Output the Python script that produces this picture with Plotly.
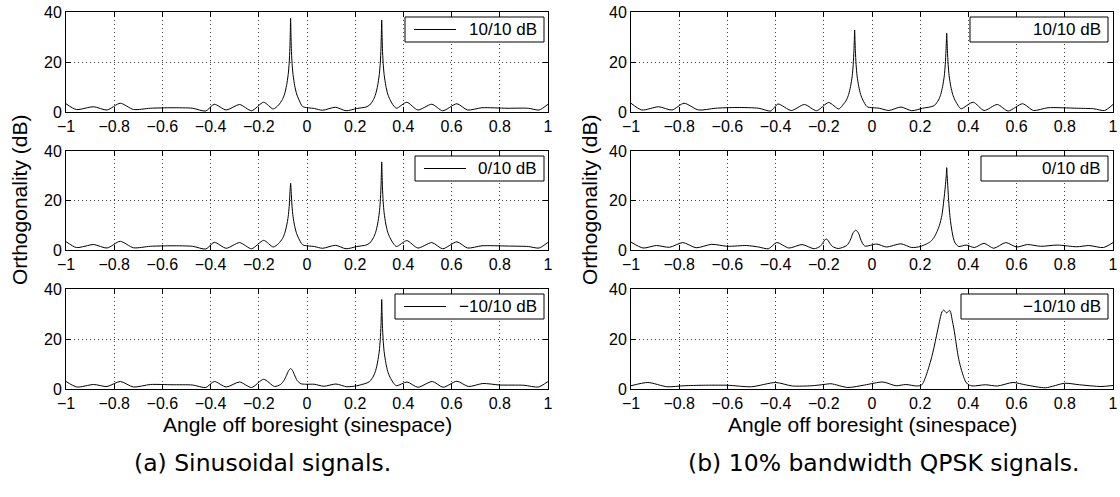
import plotly.graph_objects as go

W, H = 1120, 497

x_ticks = [-1, -0.8, -0.6, -0.4, -0.2, 0, 0.2, 0.4, 0.6, 0.8, 1]
x_tick_labels = ["−1", "−0.8", "−0.6", "−0.4", "−0.2", "0", "0.2", "0.4", "0.6", "0.8", "1"]
y_ticks = [0, 20, 40]
y_tick_labels = ["0", "20", "40"]

legend_labels = ["10/10 dB", "0/10 dB", "−10/10 dB"]
captions = ["(a) Sinusoidal signals.", "(b) 10% bandwidth QPSK signals."]
x_title = "Angle off boresight (sinespace)"
y_title = "Orthogonality (dB)"

# (a) Sinusoidal signals, (angle, orthogonality dB)
sin_10 = [(-1.0,3.3),(-0.957,1.0),(-0.885,2.1),(-0.83,0.8),(-0.775,3.5),(-0.72,1.0),(-0.65,1.5),(-0.56,1.7),
          (-0.475,1.5),(-0.42,0.4),(-0.385,3.1),(-0.335,0.8),(-0.28,3.0),(-0.23,0.5),(-0.18,3.9),(-0.14,1.2),
          (-0.118,2.8),(-0.102,5.0),(-0.093,7.2),(-0.085,10.5),(-0.078,15.0),(-0.074,19.5),(-0.071,25.5),
          (-0.0695,31.0),(-0.068,37.5),(-0.0665,31.0),(-0.065,25.5),(-0.062,19.5),(-0.058,15.0),(-0.051,10.5),
          (-0.043,7.2),(-0.034,5.0),(-0.018,2.2),(0.03,1.4),(0.065,0.7),(0.118,1.9),(0.162,0.5),(0.207,1.4),
          (0.245,2.0),(0.26,2.8),(0.276,5.0),(0.285,7.2),(0.293,10.5),(0.3,15.0),(0.304,19.5),(0.307,25.5),
          (0.3085,31.0),(0.31,36.8),(0.3115,31.0),(0.313,25.5),(0.316,19.5),(0.32,15.0),(0.327,10.5),(0.335,7.2),
          (0.344,5.0),(0.36,2.4),(0.372,1.5),(0.414,3.9),(0.46,0.8),(0.518,3.1),(0.563,0.5),(0.622,3.3),
          (0.666,0.8),(0.726,1.7),(0.83,1.5),(0.918,1.5),(0.963,0.8),(1.0,3.1)]

sin_0 = [(-1.0,3.4),(-0.957,1.0),(-0.885,2.2),(-0.83,0.8),(-0.775,3.5),(-0.72,0.9),(-0.65,1.5),(-0.56,1.7),
         (-0.475,1.5),(-0.42,0.4),(-0.385,3.1),(-0.335,0.7),(-0.28,3.0),(-0.23,0.5),(-0.18,3.9),(-0.14,1.2),
         (-0.118,2.6),(-0.102,4.6),(-0.093,6.6),(-0.085,9.6),(-0.078,13.5),(-0.074,17.5),(-0.071,22.5),
         (-0.068,27.0),(-0.065,22.5),(-0.062,17.5),(-0.058,13.5),(-0.051,9.6),(-0.043,6.6),(-0.034,4.6),
         (-0.018,2.1),(0.03,1.4),(0.065,0.7),(0.118,1.9),(0.162,0.5),(0.207,1.4),(0.245,2.0),(0.26,2.8),
         (0.276,5.0),(0.285,7.2),(0.293,10.5),(0.3,15.0),(0.304,19.5),(0.307,25.5),(0.3085,30.5),(0.31,35.6),
         (0.3115,30.5),(0.313,25.5),(0.316,19.5),(0.32,15.0),(0.327,10.5),(0.335,7.2),(0.344,5.0),(0.36,2.4),
         (0.372,1.4),(0.414,3.8),(0.46,0.8),(0.518,3.0),(0.563,0.5),(0.622,3.3),(0.666,0.8),(0.726,1.7),
         (0.83,1.6),(0.918,1.4),(0.963,0.8),(1.0,3.1)]

sin_m10 = [(-1.0,3.0),(-0.955,0.8),(-0.885,1.8),(-0.83,1.0),(-0.775,3.0),(-0.72,0.8),(-0.65,1.8),(-0.56,1.7),
           (-0.475,1.6),(-0.42,0.6),(-0.385,3.0),(-0.335,0.8),(-0.28,2.8),(-0.23,0.6),(-0.18,3.9),(-0.135,1.0),
           (-0.11,1.8),(-0.095,3.5),(-0.085,5.5),(-0.076,7.4),(-0.068,8.2),(-0.06,7.4),(-0.05,5.2),(-0.04,3.3),
           (-0.025,2.1),(-0.005,1.9),(0.03,1.9),(0.07,1.1),(0.12,2.0),(0.165,0.9),(0.207,1.3),(0.245,2.3),
           (0.26,3.0),(0.276,5.2),(0.285,7.4),(0.293,10.8),(0.3,15.2),(0.304,19.8),(0.307,25.5),(0.3085,30.5),
           (0.31,35.8),(0.3115,30.5),(0.313,25.5),(0.316,19.5),(0.32,15.0),(0.327,10.5),(0.335,7.0),(0.344,4.8),
           (0.36,2.2),(0.372,1.3),(0.415,2.8),(0.46,0.7),(0.52,3.0),(0.565,0.7),(0.622,3.1),(0.67,1.0),
           (0.73,2.2),(0.8,1.6),(0.9,1.5),(0.96,0.8),(1.0,3.0)]

# (b) 10% bandwidth QPSK signals
qpsk_10 = [(-1.0,3.5),(-0.955,0.8),(-0.885,2.1),(-0.83,0.8),(-0.78,3.5),(-0.72,0.8),(-0.65,1.5),(-0.56,1.8),
           (-0.47,1.5),(-0.42,0.4),(-0.39,3.2),(-0.335,0.6),(-0.28,3.0),(-0.23,0.5),(-0.18,3.8),(-0.138,1.2),
           (-0.122,2.7),(-0.106,4.8),(-0.097,7.0),(-0.089,10.2),(-0.082,14.5),(-0.078,19.0),(-0.075,24.5),
           (-0.0735,28.5),(-0.072,32.8),(-0.0705,28.5),(-0.069,24.5),(-0.066,19.0),(-0.062,14.5),(-0.055,10.2),
           (-0.047,7.0),(-0.038,4.8),(-0.02,2.1),(0.03,1.5),(0.07,0.6),(0.12,2.0),(0.165,0.5),(0.21,1.5),
           (0.245,2.1),(0.26,2.7),(0.276,4.8),(0.285,7.0),(0.293,10.2),(0.3,14.5),(0.304,19.0),(0.307,24.5),
           (0.3085,28.0),(0.31,31.5),(0.3115,28.0),(0.313,24.5),(0.316,19.0),(0.32,14.5),(0.327,10.2),(0.335,7.0),
           (0.344,4.8),(0.36,2.2),(0.37,1.3),(0.42,3.9),(0.465,0.6),(0.52,3.0),(0.565,0.4),(0.625,3.3),
           (0.67,0.6),(0.73,1.7),(0.85,1.5),(0.92,1.3),(0.965,0.6),(1.0,3.0)]

qpsk_0 = [(-1.0,3.2),(-0.95,0.8),(-0.895,1.8),(-0.84,1.1),(-0.785,3.0),(-0.73,0.9),(-0.665,2.3),(-0.6,1.5),
          (-0.52,1.8),(-0.47,1.2),(-0.43,0.5),(-0.395,3.0),(-0.345,0.8),(-0.29,2.2),(-0.24,0.5),(-0.215,1.5),
          (-0.19,4.5),(-0.165,1.5),(-0.14,0.6),(-0.105,1.8),(-0.09,4.0),(-0.078,7.0),(-0.067,8.0),(-0.056,6.8),
          (-0.045,3.8),(-0.03,1.6),(0.02,2.4),(0.06,1.2),(0.12,2.5),(0.165,1.0),(0.2,1.4),(0.225,2.4),
          (0.243,3.4),(0.257,5.0),(0.27,7.5),(0.28,10.0),(0.29,14.0),(0.298,20.0),(0.304,25.5),(0.308,30.0),
          (0.31,33.3),(0.312,30.0),(0.315,25.0),(0.318,20.0),(0.323,14.0),(0.328,10.0),(0.337,5.0),(0.345,2.8),
          (0.36,1.4),(0.39,2.0),(0.425,1.0),(0.465,2.7),(0.505,0.7),(0.555,3.0),(0.6,1.2),(0.645,2.2),
          (0.7,1.5),(0.77,2.0),(0.85,1.3),(0.9,1.8),(0.96,1.0),(1.0,3.0)]

qpsk_m10 = [(-1.0,1.3),(-0.93,2.6),(-0.85,0.9),(-0.78,1.3),(-0.7,1.5),(-0.6,1.5),(-0.5,0.9),(-0.4,2.6),
            (-0.33,1.2),(-0.25,1.3),(-0.2,1.8),(-0.17,2.1),(-0.1,0.6),(-0.03,1.6),(0.045,2.8),(0.1,1.3),
            (0.14,1.8),(0.185,1.2),(0.205,1.5),(0.215,3.0),(0.225,5.5),(0.235,8.5),(0.247,12.5),(0.257,16.5),
            (0.268,21.5),(0.28,27.0),(0.29,30.8),(0.298,31.6),(0.305,30.8),(0.31,30.4),(0.316,31.0),(0.322,31.5),
            (0.327,30.5),(0.333,27.5),(0.34,24.0),(0.348,19.0),(0.355,14.5),(0.362,11.0),(0.37,8.0),(0.378,5.5),
            (0.387,3.2),(0.4,1.7),(0.42,1.2),(0.47,1.7),(0.52,1.2),(0.585,2.6),(0.64,1.6),(0.72,0.5),
            (0.8,2.3),(0.86,1.7),(0.95,1.0),(1.0,1.4)]

curves = [[sin_10, sin_0, sin_m10], [qpsk_10, qpsk_0, qpsk_m10]]
show_sample = [True, False]   # left legends show a line sample, right ones do not

# layout geometry in pixels
col_px = [(66, 548), (631, 1113)]
row_px = [(12, 112), (151, 250), (289, 389)]
legend_left_px = [[405, 415, 395], [970, 981, 961]]

FONT = "Liberation Sans, Arial, sans-serif"
fig = go.Figure()
layout = dict(width=W, height=H, margin=dict(l=0, r=0, t=0, b=0, pad=0, autoexpand=False),
              paper_bgcolor="white", plot_bgcolor="white", showlegend=False)

shapes = []
ann = []
n = 0
for c in range(2):
    for r in range(3):
        n += 1
        xs = "" if n == 1 else str(n)
        data = curves[c][r]
        xv = [p[0] for p in data]
        yv = [p[1] for p in data]
        fig.add_trace(go.Scatter(x=xv, y=yv, mode="lines",
                                 line=dict(color="black", width=1, shape="spline", smoothing=0.7),
                                 xaxis="x" + xs, yaxis="y" + xs, name=legend_labels[r],
                                 showlegend=False, hoverinfo="skip"))
        x0, x1 = col_px[c]
        y0, y1 = row_px[r]
        common = dict(showline=True, linecolor="black", linewidth=1, mirror="ticks",
                      ticks="inside", ticklen=5, tickcolor="black", tickwidth=1,
                      showgrid=True, gridcolor="#444444", gridwidth=1, griddash="1px,3px",
                      zeroline=False, tickfont=dict(family=FONT, size=16, color="black"),
                      fixedrange=True, automargin=False)
        layout["xaxis" + xs] = dict(domain=[x0 / W, x1 / W], range=[-1, 1], anchor="y" + xs,
                                    tickmode="array", tickvals=x_ticks, ticktext=x_tick_labels, **common)
        layout["yaxis" + xs] = dict(domain=[1 - y1 / H, 1 - y0 / H], range=[0, 40], anchor="x" + xs,
                                    tickmode="array", tickvals=y_ticks, ticktext=y_tick_labels, **common)
        # legend box
        bl = legend_left_px[c][r]
        br = x1 - 4 if c == 0 else x1 - 5
        bt = y0 + 5
        bb = bt + 25
        shapes.append(dict(type="rect", xref="paper", yref="paper",
                           x0=bl / W, x1=br / W, y0=1 - bb / H, y1=1 - bt / H,
                           line=dict(color="black", width=1), fillcolor="white", layer="above"))
        if show_sample[c]:
            shapes.append(dict(type="line", xref="paper", yref="paper",
                               x0=(bl + 9) / W, x1=(bl + 51) / W,
                               y0=1 - (bt + 12.5) / H, y1=1 - (bt + 12.5) / H,
                               line=dict(color="black", width=1), layer="above"))
        ann.append(dict(text=legend_labels[r], x=(br - 5) / W, y=1 - (bt + 12.5) / H,
                        xref="paper", yref="paper", xanchor="right", yanchor="middle",
                        showarrow=False, font=dict(family=FONT, size=17, color="black")))

for cx in [307, 872]:
    ann.append(dict(text=x_title, x=cx / W, y=1 - 424 / H, xref="paper", yref="paper",
                    xanchor="center", yanchor="middle",
                    showarrow=False, font=dict(family=FONT, size=21, color="black")))
for cx in [19, 589]:
    ann.append(dict(text=y_title, x=cx / W, y=1 - 200 / H, xref="paper", yref="paper",
                    xanchor="center", yanchor="middle",
                    showarrow=False, textangle=-90, font=dict(family=FONT, size=21, color="black")))
for cap, cx in zip(captions, [262, 884]):
    ann.append(dict(text=cap, x=cx / W, y=1 - 463 / H, xref="paper", yref="paper",
                    xanchor="center", yanchor="middle",
                    showarrow=False, font=dict(family="DejaVu Sans, sans-serif", size=23.5, color="black")))
layout["annotations"] = ann
layout["shapes"] = shapes

fig.update_layout(**layout)
fig.write_html("out.html")
